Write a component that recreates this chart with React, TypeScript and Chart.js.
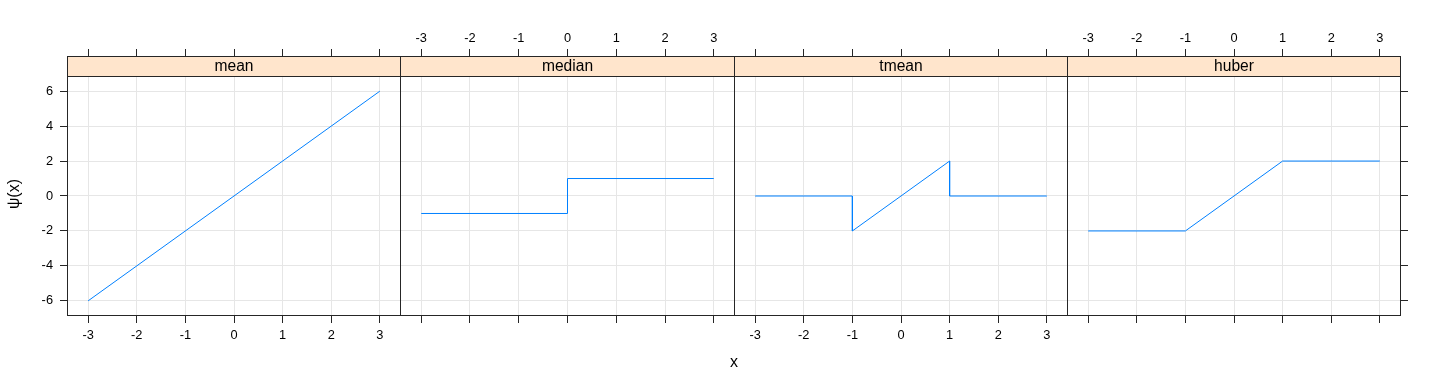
import React, { useEffect, useRef } from 'react';
import { Chart, registerables } from 'chart.js';
Chart.register(...registerables);

// ---- data ----
const panelNames = ['mean', 'median', 'tmean', 'huber'];
const meanX = [-3, 3];
const meanY = [-6, 6];
const medianX = [-3, 0, 0, 3];
const medianY = [-1, -1, 1, 1];
const tmeanX = [-3, -1, -1, 1, 1, 3];
const tmeanY = [0, 0, -2, 2, 0, 0];
const huberX = [-3, -1, 1, 3];
const huberY = [-2, -2, 2, 2];
const xTicks = [-3, -2, -1, 0, 1, 2, 3];
const yTicks = [-6, -4, -2, 0, 2, 4, 6];
const xLabel = 'x';
const yLabel = 'ψ(x)';

const seriesX = [meanX, medianX, tmeanX, huberX];
const seriesY = [meanY, medianY, tmeanY, huberY];

// ---- layout ----
const W = 1440;
const H = 384;
const edges = [67.5, 400.5, 734.5, 1067.5, 1400.5];
const stripTop = 56.5;
const plotTop = 76.5;
const plotBottom = 315.5;
const xLim = 3.425;
const yLim = 6.84;
const pxPerY = (plotBottom - plotTop) / (2 * yLim);
const yMaxArea = yLim + (plotTop - stripTop) / pxPerY;

const FONT = "'Liberation Sans', Arial, Helvetica, sans-serif";
const GRID = '#e6e6e6';
const AXIS = '#262626';
const LINE = '#0080ff';
const STRIP = '#ffe5cc';
const TICK_LEN = 7.5;
const TOP_H = 40;
const BOT_H = 40;
const LEFT_W = 60;
const RIGHT_W = 12;

function makeChart(canvas: HTMLCanvasElement, i: number) {
  const L = edges[i];
  const R = edges[i + 1];
  const hasLeft = i === 0;
  const hasRight = i === 3;
  const bottomLabels = i % 2 === 0;
  const topLabels = i % 2 === 1;

  const data = seriesX[i].map((x, k) => ({ x, y: seriesY[i][k] }));

  const tickFont = { family: FONT, size: 12.8 };

  const panelPlugin = {
    id: 'panelDeco' + i,
    afterDraw(chart: any) {
      const ctx = chart.ctx as CanvasRenderingContext2D;
      ctx.save();
      // strip
      ctx.fillStyle = STRIP;
      ctx.fillRect(L, stripTop, R - L, plotTop - stripTop);
      ctx.strokeStyle = AXIS;
      ctx.lineWidth = 1;
      ctx.strokeRect(L, stripTop, R - L, plotTop - stripTop);
      ctx.strokeRect(L, plotTop, R - L, plotBottom - plotTop);
      ctx.fillStyle = '#000';
      ctx.font = `15.6px ${FONT}`;
      ctx.textAlign = 'center';
      ctx.textBaseline = 'middle';
      ctx.fillText(panelNames[i], (L + R) / 2, (stripTop + plotTop) / 2 + 0.5);
      if (i === 0) {
        ctx.font = `16px ${FONT}`;
        ctx.fillText(xLabel, (edges[0] + edges[4]) / 2, 363);
        ctx.save();
        ctx.translate(15, 194);
        ctx.rotate(-Math.PI / 2);
        ctx.fillText(yLabel, 0, 0);
        ctx.restore();
      }
      ctx.restore();
    },
  };

  const setTicks = (vals: number[]) => (scale: any) => {
    scale.ticks = vals.map((v) => ({ value: v }));
  };

  const scales: any = {
    x: {
      type: 'linear',
      position: 'bottom',
      min: -xLim,
      max: xLim,
      afterBuildTicks: setTicks(xTicks),
      afterFit: (s: any) => { s.height = BOT_H; },
      border: { display: false },
      grid: { color: GRID, lineWidth: 1, drawTicks: true, tickLength: TICK_LEN, tickColor: AXIS, tickWidth: 1 },
      ticks: { display: bottomLabels, color: '#000', font: tickFont, padding: 5, maxRotation: 0, autoSkip: false, callback: (v: any) => String(v) },
    },
    x2: {
      type: 'linear',
      position: 'top',
      min: -xLim,
      max: xLim,
      afterBuildTicks: setTicks(xTicks),
      afterFit: (s: any) => { s.height = TOP_H; },
      border: { display: false },
      grid: { drawOnChartArea: false, drawTicks: true, tickLength: TICK_LEN, tickColor: AXIS, tickWidth: 1 },
      ticks: { display: topLabels, color: '#000', font: tickFont, padding: 3, maxRotation: 0, autoSkip: false, callback: (v: any) => String(v) },
    },
    y: {
      type: 'linear',
      position: hasRight ? 'right' : 'left',
      min: -yLim,
      max: yMaxArea,
      afterBuildTicks: setTicks(yTicks),
      afterFit: (s: any) => { s.width = hasLeft ? LEFT_W : hasRight ? RIGHT_W : 0; },
      border: { display: false },
      grid: { color: GRID, lineWidth: 1, drawTicks: hasLeft || hasRight, tickLength: TICK_LEN, tickColor: AXIS, tickWidth: 1 },
      ticks: { display: hasLeft, color: '#000', font: tickFont, padding: 7, autoSkip: false, callback: (v: any) => String(v) },
    },
  };

  const padding = {
    top: stripTop - TOP_H,
    bottom: H - plotBottom - BOT_H,
    left: hasLeft ? L - LEFT_W : L,
    right: hasRight ? W - R - RIGHT_W : W - R,
  };

  return new Chart(canvas, {
    type: 'line',
    data: {
      datasets: [
        {
          data,
          xAxisID: 'x',
          yAxisID: 'y',
          borderColor: LINE,
          backgroundColor: LINE,
          borderWidth: 1,
          pointRadius: 0,
          tension: 0,
          fill: false,
        },
      ],
    },
    options: {
      responsive: false,
      animation: false,
      devicePixelRatio: 1,
      layout: { padding, autoPadding: false },
      plugins: { legend: { display: false }, tooltip: { enabled: false }, title: { display: false } },
      events: [],
      scales,
    } as any,
    plugins: [panelPlugin],
  });
}

export default function App() {
  const refs = [useRef<HTMLCanvasElement>(null), useRef<HTMLCanvasElement>(null), useRef<HTMLCanvasElement>(null), useRef<HTMLCanvasElement>(null)];
  useEffect(() => {
    const charts = refs.map((r, i) => makeChart(r.current as HTMLCanvasElement, i));
    return () => charts.forEach((c) => c.destroy());
  }, []);
  return (
    <div style={{ position: 'fixed', left: 0, top: 0, width: W, height: H, background: '#fff' }}>
      {refs.map((r, i) => (
        <canvas
          key={i}
          ref={r}
          width={W}
          height={H}
          style={{ position: 'absolute', left: 0, top: 0, width: W, height: H }}
        />
      ))}
    </div>
  );
}
